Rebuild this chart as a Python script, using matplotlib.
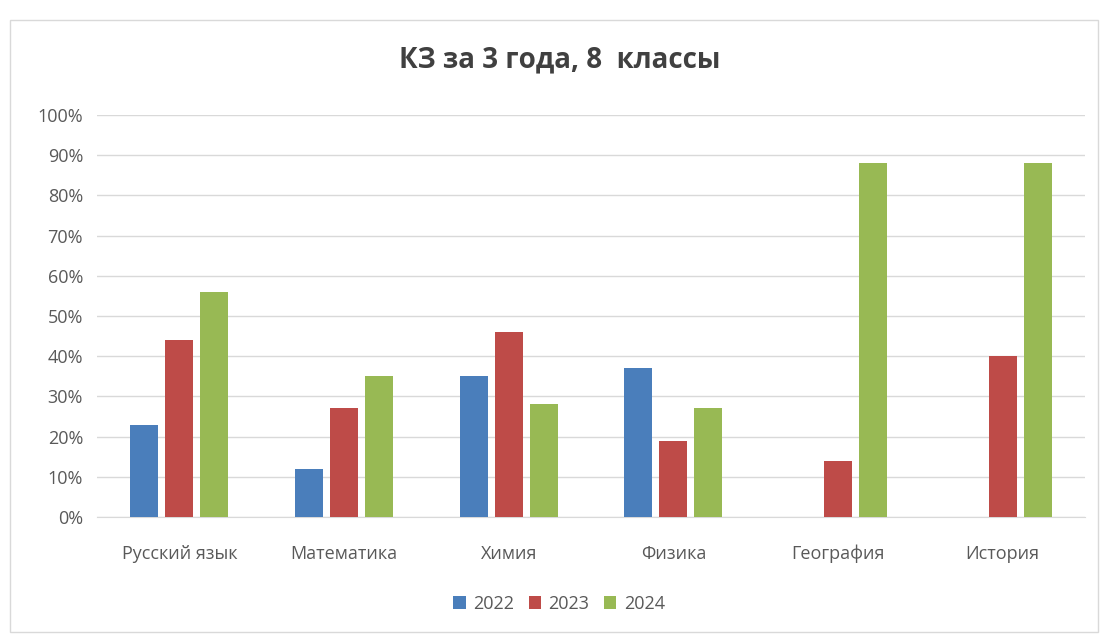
import numpy as np
import matplotlib.pyplot as plt
from matplotlib.patches import Rectangle

# Данные
subjects = ["Русский язык", "Математика", "Химия", "Физика", "География", "История"]
years = ["2022", "2023", "2024"]
kz2022 = [23, 12, 35, 37, 0, 0]
kz2023 = [44, 27, 46, 19, 14, 40]
kz2024 = [56, 35, 28, 27, 88, 88]
colors = ["#4a7ebb", "#be4b48", "#98b954"]

plt.rcParams['font.family'] = ['Open Sans', 'DejaVu Sans']

fig = plt.figure(figsize=(11.02, 6.37), dpi=100)
# рамка вокруг диаграммы
fig.patches.append(Rectangle((10 / 1102, 5 / 637), 1088 / 1102, 612 / 637,
                             transform=fig.transFigure, fill=False,
                             edgecolor="#d9d9d9", linewidth=1))

ax = fig.add_axes([97 / 1102, 1 - 517 / 637, 988 / 1102, 402 / 637])

x = np.arange(len(subjects))
width = 0.17
step = 0.212
for i, (vals, year) in enumerate(zip([kz2022, kz2023, kz2024], years)):
    ax.bar(x + (i - 1) * step, vals, width, color=colors[i], label=year, zorder=3)

ax.set_xlim(-0.5, len(subjects) - 0.5)
ax.set_ylim(0, 100)
ax.set_yticks(range(0, 101, 10))
ax.set_yticklabels([f"{v}%" for v in range(0, 101, 10)], fontsize=13, color="#595959")
ax.set_xticks(x)
ax.set_xticklabels(subjects, fontsize=13, color="#595959")
ax.tick_params(axis="both", length=0)
ax.tick_params(axis="x", pad=20)
ax.tick_params(axis="y", pad=10)
ax.grid(axis="y", color="#d9d9d9", linewidth=1, zorder=0)
for s in ["top", "right", "left"]:
    ax.spines[s].set_visible(False)
ax.spines["bottom"].set_color("#d9d9d9")

fig.text(560 / 1102, 1 - 60 / 637, "КЗ за 3 года, 8  классы", ha="center", va="center",
         fontsize=20, fontweight="bold", color="#404040")

leg = fig.legend(loc="center", bbox_to_anchor=(559 / 1102, 1 - 604 / 637), ncol=3,
                 frameon=False, fontsize=13, handlelength=0.7, handleheight=0.7,
                 handletextpad=0.4, columnspacing=0.8)
for t in leg.get_texts():
    t.set_color("#595959")

fig.savefig("out.png", dpi=100, facecolor="white")
